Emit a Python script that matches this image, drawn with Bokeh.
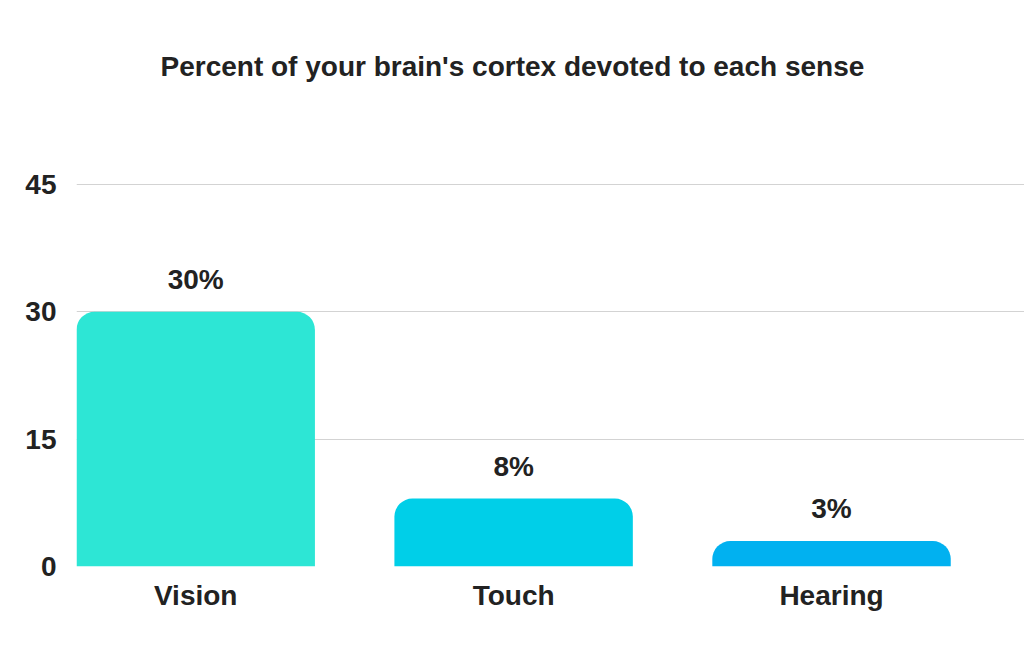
from bokeh.plotting import figure
from bokeh.models import ColumnDataSource, FixedTicker, LabelSet, Range1d, Title
from bokeh.core.properties import value
from bokeh.embed import file_html
from bokeh.resources import INLINE

categories = ["Vision", "Touch", "Hearing"]
values = [30, 8, 3]
value_labels = ["30%", "8%", "3%"]
bar_colors = ["#2DE6D5", "#00CFE8", "#01B1F0"]
y_ticks = [0, 15, 30, 45]

FONT = "Liberation Sans"
TXT = "#222222"

positions = list(range(len(categories)))
src = ColumnDataSource(dict(x=positions, top=values, lab=value_labels, color=bar_colors))

p = figure(width=1024, height=651, output_backend="svg", toolbar_location=None,
           x_range=Range1d(-0.375, 2.607), y_range=Range1d(0, 56.54),
           min_border_left=76, min_border_right=0, min_border_bottom=85, min_border_top=86)
p.title = Title(text="Percent of your brain's cortex devoted to each sense",
                align="left", offset=84, text_font=FONT, text_font_size="28px",
                text_font_style="bold", text_color=TXT, standoff=10)
p.outline_line_color = None
p.background_fill_color = "white"
p.border_fill_color = "white"

p.vbar(x="x", top="top", width=0.75, bottom=0, source=src, fill_color="color",
       line_color=None, border_radius=(18, 18, 0, 0))

labels = LabelSet(x="x", y="top", text="lab", source=src, text_align="center",
                  text_baseline="bottom", y_offset=17, text_font=value(FONT),
                  text_font_size=value("28px"), text_font_style=value("bold"),
                  text_color=value(TXT))
p.add_layout(labels)

p.xaxis.ticker = FixedTicker(ticks=positions)
p.xaxis.major_label_overrides = {i: c for i, c in zip(positions, categories)}
p.yaxis.ticker = FixedTicker(ticks=y_ticks)
for ax in (p.xaxis, p.yaxis):
    ax.axis_line_color = None
    ax.major_tick_line_color = None
    ax.minor_tick_line_color = None
    ax.major_label_text_font = FONT
    ax.major_label_text_font_size = "28px"
    ax.major_label_text_font_style = "bold"
    ax.major_label_text_color = TXT
p.xaxis.major_label_standoff = 7
p.yaxis.major_label_standoff = 14

p.xgrid.grid_line_color = None
p.ygrid.ticker = FixedTicker(ticks=y_ticks)
p.ygrid.grid_line_color = "#D3D3D3"
p.ygrid.grid_line_width = 1

open("out.html", "w").write(file_html(p, INLINE))
